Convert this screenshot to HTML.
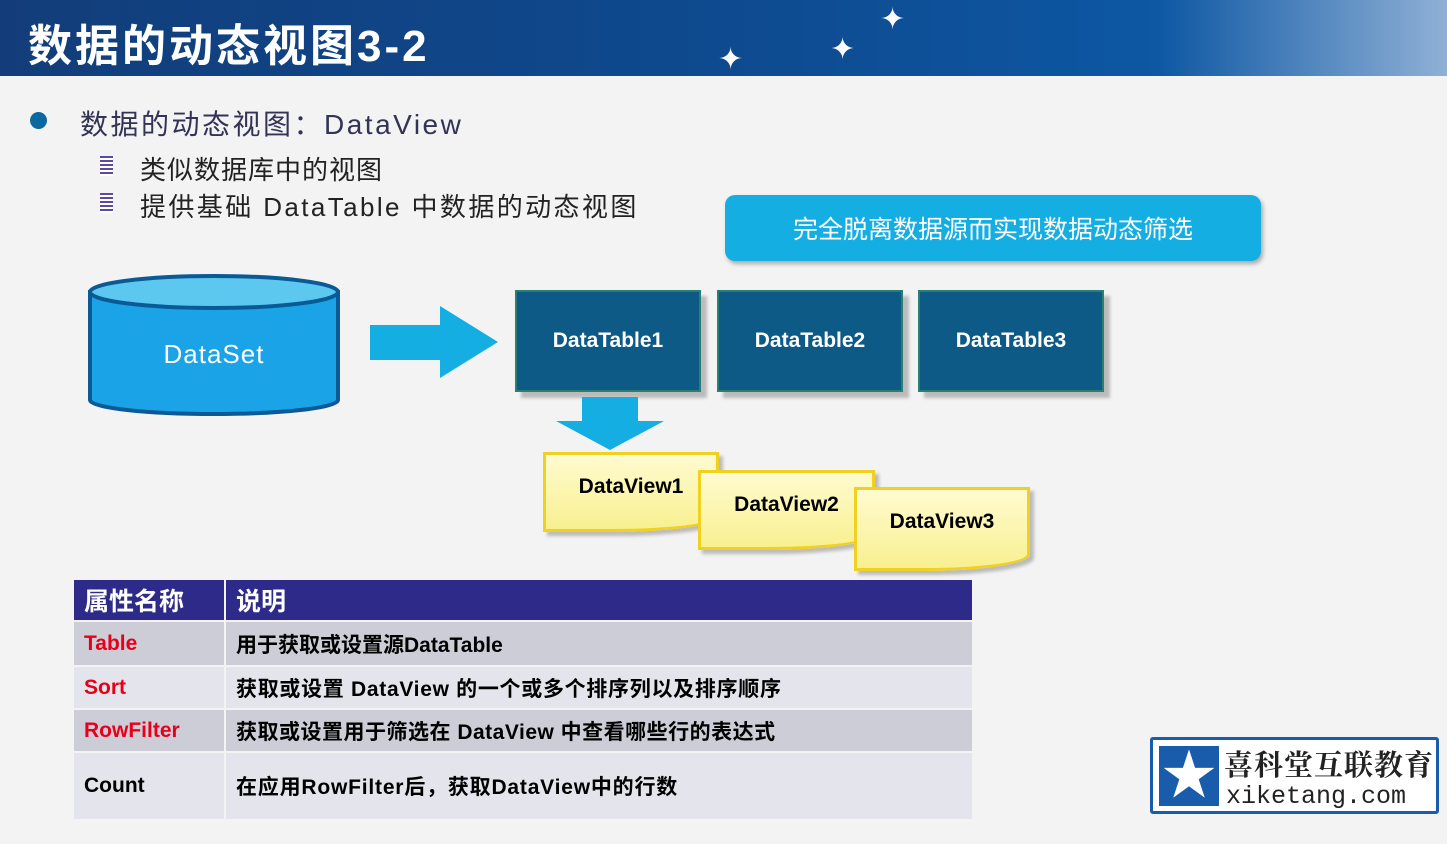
<!DOCTYPE html>
<html><head><meta charset="utf-8"><style>
*{margin:0;padding:0;box-sizing:border-box}
body{width:1447px;height:844px;background:#f3f3f3;position:relative;overflow:hidden;font-family:"Liberation Sans","Noto Sans CJK SC",sans-serif}
.a{position:absolute}
.hdr{left:0;top:0;width:1447px;height:76px;background:linear-gradient(90deg,#123d7a 0%,#0e4a8f 50%,#0d57a3 80%,#8fb0d6 100%)}
.ttl{left:28px;top:10px;font-size:44px;font-weight:bold;color:#fff;letter-spacing:3px;white-space:nowrap}
.dt{width:186px;height:102px;background:#0e5a86;color:#fff;font-weight:bold;font-size:21px;display:flex;align-items:center;justify-content:center;box-shadow:6px 6px 3px #bbb;border:2px solid #2a8070}
.dv{background:linear-gradient(#fffbd0,#f8f090);border:3px solid #f0d020;font-weight:bold;font-size:21px;display:flex;align-items:flex-start;justify-content:center;padding-top:20px;box-shadow:4px 4px 3px #bbb}
table{border-collapse:collapse;font-size:21px;font-weight:bold}
td{border:2px solid #f3f3f3;padding:0 10px;white-space:nowrap}
.r{color:#e8001a}
</style></head><body>
<div class="a hdr"></div>
<div class="a ttl">数据的动态视图3-2</div>
<div class="a" style="left:880px;top:2px;color:#fff;font-size:30px">✦</div>
<div class="a" style="left:830px;top:32px;color:#fff;font-size:30px">✦</div>
<div class="a" style="left:718px;top:42px;color:#fff;font-size:30px">✦</div>
<div class="a" style="left:30px;top:112px;width:17px;height:17px;border-radius:50%;background:#0a6aa0"></div>
<div class="a" style="left:80px;top:103px;font-size:28px;color:#335;letter-spacing:2.5px;white-space:nowrap">数据的动态视图：DataView</div>
<div class="a" style="left:100px;top:156px;width:13px;height:20px;background:repeating-linear-gradient(#5a4aa0 0 2px,#fff 2px 4px)"></div>
<div class="a" style="left:100px;top:193px;width:13px;height:20px;background:repeating-linear-gradient(#5a4aa0 0 2px,#fff 2px 4px)"></div>
<div class="a" style="left:140px;top:150px;font-size:26px;color:#222;letter-spacing:1px;white-space:nowrap">类似数据库中的视图</div>
<div class="a" style="left:140px;top:187px;font-size:26px;color:#222;letter-spacing:2.4px;white-space:nowrap">提供基础 DataTable 中数据的动态视图</div>
<div class="a" style="left:725px;top:195px;width:536px;height:66px;border-radius:10px;background:#14aee3;color:#fff;font-size:25px;display:flex;align-items:center;justify-content:center;box-shadow:2px 3px 4px #aaa">完全脱离数据源而实现数据动态筛选</div>
<svg class="a" style="left:80px;top:270px" width="440" height="160">
<path d="M10 20 V130 A124 14 0 0 0 258 130 V20" fill="#1aa3e6" stroke="#0a5a95" stroke-width="4"/>
<ellipse cx="134" cy="22" rx="124" ry="16" fill="#5cc8f0" stroke="#0a5a95" stroke-width="4"/>
<text x="134" y="93" font-size="26" fill="#fff" text-anchor="middle" font-family="Liberation Sans" letter-spacing="1">DataSet</text>
<polygon points="290,55 360,55 360,36 418,72 360,108 360,90 290,90" fill="#14aee3"/>
</svg>
<div class="a dt" style="left:515px;top:290px">DataTable1</div>
<div class="a dt" style="left:717px;top:290px">DataTable2</div>
<div class="a dt" style="left:918px;top:290px">DataTable3</div>
<svg class="a" style="left:550px;top:395px" width="120" height="60"><polygon points="32,2 88,2 88,26 114,26 60,55 6,26 32,26" fill="#14aee3"/></svg>
<div class="a dv" style="left:543px;top:452px;width:176px;height:80px;border-radius:0 0 60% 0/0 0 20% 0">DataView1</div>
<div class="a dv" style="left:698px;top:470px;width:177px;height:80px;border-radius:0 0 60% 0/0 0 20% 0">DataView2</div>
<div class="a dv" style="left:854px;top:487px;width:176px;height:84px;border-radius:0 0 60% 0/0 0 20% 0">DataView3</div>
<table class="a" style="left:72px;top:578px;width:902px">
<tr style="height:42px;background:#2e2a8a;color:#fff;font-size:25px"><td style="width:152px">属性名称</td><td>说明</td></tr>
<tr style="height:45px;background:#cdcdd8"><td class="r">Table</td><td>用于获取或设置源DataTable</td></tr>
<tr style="height:43px;background:#e4e4ec"><td class="r">Sort</td><td style="letter-spacing:0.7px">获取或设置 DataView 的一个或多个排序列以及排序顺序</td></tr>
<tr style="height:43px;background:#cdcdd8"><td class="r">RowFilter</td><td style="letter-spacing:0.5px">获取或设置用于筛选在 DataView 中查看哪些行的表达式</td></tr>
<tr style="height:68px;background:#e4e4ec"><td>Count</td><td style="letter-spacing:0.8px">在应用RowFilter后，获取DataView中的行数</td></tr>
</table>
<div class="a" style="left:1150px;top:737px;width:289px;height:77px;border:3px solid #1a5cac;border-radius:3px;background:#fff"></div>
<div class="a" style="left:1159px;top:746px;width:60px;height:60px;background:#1a5cac;color:#fff;font-size:54px;line-height:60px;text-align:center">★</div>
<div class="a" style="left:1224px;top:744px;font-size:29px;font-weight:bold;color:#222;letter-spacing:1px;white-space:nowrap;font-family:'Noto Serif CJK SC',serif;line-height:40px">喜科堂互联教育</div>
<div class="a" style="left:1226px;top:782px;font-size:25px;color:#222;white-space:nowrap;font-family:'Liberation Mono',monospace">xiketang.com</div>
</body></html>
